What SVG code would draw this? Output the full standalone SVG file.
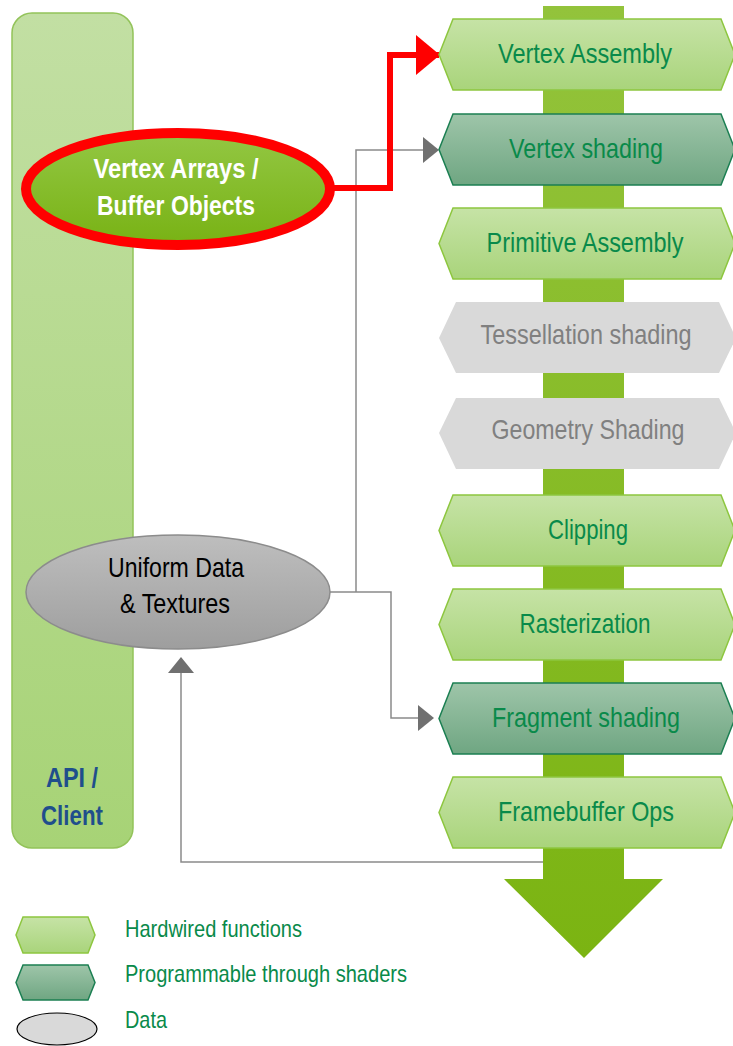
<svg xmlns="http://www.w3.org/2000/svg" width="733" height="1046" viewBox="0 0 733 1046">
<defs>
<linearGradient id="gHard" x1="0" y1="0" x2="0" y2="1"><stop offset="0" stop-color="#C6E3A6"/><stop offset="1" stop-color="#A9D47B"/></linearGradient>
<linearGradient id="gProg" x1="0" y1="0" x2="0" y2="1"><stop offset="0" stop-color="#9EC5A9"/><stop offset="1" stop-color="#6FA682"/></linearGradient>
<linearGradient id="gCol" x1="0" y1="0" x2="0" y2="1"><stop offset="0" stop-color="#C2DFA3"/><stop offset="1" stop-color="#A7D376"/></linearGradient>
<linearGradient id="gVA" x1="0" y1="0" x2="0" y2="1"><stop offset="0" stop-color="#93C743"/><stop offset="1" stop-color="#78B214"/></linearGradient>
<linearGradient id="gUni" x1="0" y1="0" x2="0" y2="1"><stop offset="0" stop-color="#BEBEBE"/><stop offset="1" stop-color="#9E9E9E"/></linearGradient>
<linearGradient id="gBar" x1="0" y1="0" x2="0" y2="1"><stop offset="0" stop-color="#93C33B"/><stop offset="1" stop-color="#7BB412"/></linearGradient>
<marker id="arrG" markerWidth="16" markerHeight="26" refX="15" refY="13" orient="auto" markerUnits="userSpaceOnUse"><path d="M0,0 L16,13 L0,26 Z" fill="#707070"/></marker>
<marker id="arrR" markerWidth="24" markerHeight="40" refX="23" refY="20" orient="auto" markerUnits="userSpaceOnUse"><path d="M0,0 L24,20 L0,40 Z" fill="#FF0000"/></marker>
</defs>
<style>
.hard{fill:url(#gHard);stroke:#8DC63F;stroke-width:1.5}
.prog{fill:url(#gProg);stroke:#1B7F52;stroke-width:1.5}
.dis{fill:#D9D9D9;stroke:none}
.t{font-family:"Liberation Sans Narrow","Liberation Sans",Arial,sans-serif;font-size:28px;text-anchor:middle}
.tg{fill:#098A4A}
.tx{fill:#808080}
.leg{font-family:"Liberation Sans Narrow","Liberation Sans",Arial,sans-serif;font-size:24px;fill:#098A4A}
.con{fill:none;stroke:#8A8A8A;stroke-width:1.5}
</style>

<g id="api-client">
<rect x="12" y="13" width="121" height="835" rx="20" ry="20" fill="url(#gCol)" stroke="#93C35A" stroke-width="1.5"/>
<text class="t" x="72" y="787" font-weight="bold" fill="#1F4E8C" textLength="52" lengthAdjust="spacingAndGlyphs">API /</text>
<text class="t" x="72" y="825" font-weight="bold" fill="#1F4E8C" textLength="62" lengthAdjust="spacingAndGlyphs">Client</text>
</g>

<g id="pipeline-bar">
<path d="M543,6 L624,6 L624,879 L663,879 L584,958 L504,879 L543,879 Z" fill="url(#gBar)"/>
</g>

<g id="connectors">
<polyline class="con" points="356,592 356,150 438,150" marker-end="url(#arrG)"/>
<polyline class="con" points="330,592 391,592 391,718 433,718" marker-end="url(#arrG)"/>
<polyline class="con" points="543,862 181,862 181,658" marker-end="url(#arrG)"/>
<polyline points="333,188 390,188 390,55 439,55" fill="none" stroke="#FF0000" stroke-width="6" marker-end="url(#arrR)"/>
</g>

<g id="vertex-assembly">
<path class="hard" d="M439,54.5 L453,19 L721,19 L735,54.5 L721,90 L453,90 Z"/>
<text class="t tg" x="585" y="63" textLength="174" lengthAdjust="spacingAndGlyphs">Vertex Assembly</text>
</g>
<g id="vertex-shading">
<path class="prog" d="M439,149.5 L453,114 L721,114 L735,149.5 L721,185 L453,185 Z"/>
<text class="t tg" x="586" y="158" textLength="154" lengthAdjust="spacingAndGlyphs">Vertex shading</text>
</g>
<g id="primitive-assembly">
<path class="hard" d="M439,243.5 L453,208 L721,208 L735,243.5 L721,279 L453,279 Z"/>
<text class="t tg" x="585" y="252" textLength="197" lengthAdjust="spacingAndGlyphs">Primitive Assembly</text>
</g>
<g id="tessellation-shading">
<path class="dis" d="M439,338 L456,302 L719,302 L736,338 L719,373 L456,373 Z"/>
<text class="t tx" x="586" y="344" textLength="211" lengthAdjust="spacingAndGlyphs">Tessellation shading</text>
</g>
<g id="geometry-shading">
<path class="dis" d="M439,433 L456,398 L719,398 L736,433 L719,469 L456,469 Z"/>
<text class="t tx" x="588" y="439" textLength="193" lengthAdjust="spacingAndGlyphs">Geometry Shading</text>
</g>
<g id="clipping">
<path class="hard" d="M439,530.5 L453,495 L721,495 L735,530.5 L721,566 L453,566 Z"/>
<text class="t tg" x="588" y="539" textLength="80" lengthAdjust="spacingAndGlyphs">Clipping</text>
</g>
<g id="rasterization">
<path class="hard" d="M439,624.5 L453,589 L721,589 L735,624.5 L721,660 L453,660 Z"/>
<text class="t tg" x="585" y="633" textLength="131" lengthAdjust="spacingAndGlyphs">Rasterization</text>
</g>
<g id="fragment-shading">
<path class="prog" d="M439,718.5 L453,683 L721,683 L735,718.5 L721,754 L453,754 Z"/>
<text class="t tg" x="586" y="727" textLength="188" lengthAdjust="spacingAndGlyphs">Fragment shading</text>
</g>
<g id="framebuffer-ops">
<path class="hard" d="M439,812.5 L453,777 L721,777 L735,812.5 L721,848 L453,848 Z"/>
<text class="t tg" x="586" y="821" textLength="176" lengthAdjust="spacingAndGlyphs">Framebuffer Ops</text>
</g>

<g id="vertex-arrays">
<ellipse cx="178" cy="189" rx="152" ry="56" fill="url(#gVA)" stroke="#FF0000" stroke-width="10"/>
<text class="t" x="176" y="178" font-weight="bold" fill="#FFFFFF" textLength="165" lengthAdjust="spacingAndGlyphs">Vertex Arrays /</text>
<text class="t" x="176" y="215" font-weight="bold" fill="#FFFFFF" textLength="158" lengthAdjust="spacingAndGlyphs">Buffer Objects</text>
</g>

<g id="uniform-data">
<ellipse cx="178" cy="592" rx="152" ry="57" fill="url(#gUni)" stroke="#8C8C8C" stroke-width="1.5"/>
<text class="t" x="176" y="577" fill="#000000" textLength="136" lengthAdjust="spacingAndGlyphs">Uniform Data</text>
<text class="t" x="175" y="613" fill="#000000" textLength="110" lengthAdjust="spacingAndGlyphs">&amp; Textures</text>
</g>

<g id="legend">
<path class="hard" d="M16,935 L23,917 L88,917 L95,935 L88,953 L23,953 Z"/>
<path class="prog" d="M16,982.5 L23,965 L88,965 L95,982.5 L88,1000 L23,1000 Z"/>
<ellipse cx="57" cy="1029" rx="40" ry="16" fill="#D9D9D9" stroke="#000000" stroke-width="1.2"/>
<text class="leg" x="125" y="937" textLength="177" lengthAdjust="spacingAndGlyphs">Hardwired functions</text>
<text class="leg" x="125" y="982" textLength="282" lengthAdjust="spacingAndGlyphs">Programmable through shaders</text>
<text class="leg" x="125" y="1028" textLength="42" lengthAdjust="spacingAndGlyphs">Data</text>
</g>
</svg>
